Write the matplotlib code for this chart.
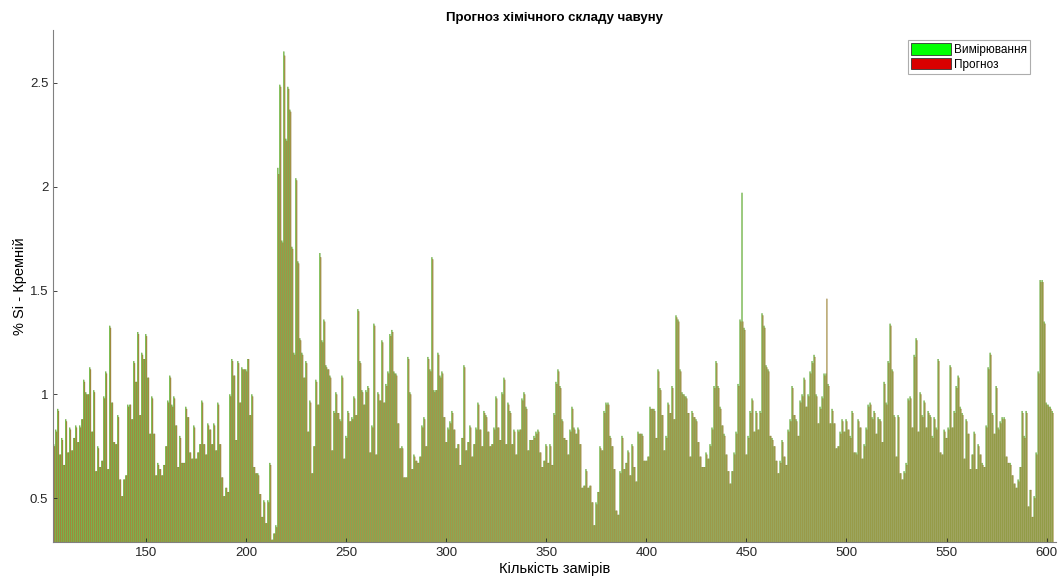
import matplotlib
matplotlib.use("Agg")
import matplotlib.pyplot as plt
from matplotlib.patches import Patch
from matplotlib.ticker import FuncFormatter

title = "Прогноз хімічного складу чавуну"
xlabel = "Кількість замірів"
ylabel = "% Si - Кремній"
legend_labels = ["Вимірювання", "Прогноз"]

x_start = 104
measured = [
    0.76, 0.83, 0.93, 0.71, 0.79, 0.66, 0.88, 0.72, 0.84, 0.73,
    0.79, 0.85, 0.77, 0.85, 0.88, 1.07, 1.01, 1.00, 1.13, 0.82,
    1.02, 0.63, 0.75, 0.65, 0.68, 0.99, 1.11, 0.64, 1.33, 0.96,
    0.77, 0.76, 0.90, 0.59, 0.51, 0.59, 0.61, 0.95, 0.95, 0.88,
    1.16, 1.06, 1.30, 0.90, 1.20, 1.17, 1.29, 1.08, 0.81, 0.99,
    0.81, 0.61, 0.67, 0.64, 0.61, 0.66, 0.75, 0.97, 1.09, 0.95,
    0.99, 0.85, 0.65, 0.80, 0.67, 0.67, 0.94, 0.89, 0.72, 0.69,
    0.85, 0.69, 0.72, 0.76, 0.97, 0.76, 0.71, 0.86, 0.83, 0.76,
    0.86, 0.73, 0.96, 0.76, 0.60, 0.51, 0.55, 0.53, 1.00, 1.17,
    1.09, 0.78, 1.16, 0.96, 1.13, 1.12, 1.12, 1.17, 0.90, 1.00,
    0.65, 0.62, 0.62, 0.52, 0.41, 0.49, 0.38, 0.49, 0.67, 0.30,
    0.33, 0.37,
    2.09, 2.49, 1.74, 2.65, 2.23, 2.48, 2.37, 1.71, 1.20, 2.04,
    1.64, 1.27, 1.20, 1.08, 1.16, 0.82, 0.97, 0.62, 0.75, 1.07,
    0.95, 1.68, 1.26, 1.36, 1.14, 1.12, 1.09, 0.73, 0.92, 1.01,
    0.91, 0.88, 1.09, 0.69, 0.80, 0.92, 0.87, 0.89, 0.99, 0.90,
    1.41, 1.16, 1.02, 0.95, 1.02, 1.04, 0.72, 0.85, 1.34, 0.71,
    1.01, 0.97, 1.26, 0.96, 1.05, 1.11, 1.29, 1.31, 1.11, 1.10,
    0.86, 0.74, 0.75, 0.60, 0.60, 1.18, 1.01, 0.64, 0.71, 0.68,
    0.67, 0.70, 0.85, 0.89, 0.75, 1.18, 1.12, 1.66, 1.02, 1.02,
    1.20, 1.09, 1.11, 0.89, 0.77, 0.84, 0.87, 0.92, 0.83, 0.74,
    0.76, 0.66, 0.79, 1.14, 0.73, 0.77, 0.85,
    0.70, 0.76, 0.84, 0.96, 0.83, 0.75, 0.92, 0.90, 0.82, 0.75,
    0.76, 0.84, 0.99, 0.84, 0.78, 1.01, 1.08, 0.76, 0.96, 0.92,
    0.76, 0.83, 0.71, 0.83, 0.83, 0.98, 1.01, 0.94, 0.73, 0.78,
    0.78, 0.80, 0.82, 0.83, 0.72, 0.65, 0.68, 0.76, 0.67, 0.76,
    0.66, 0.91, 1.06, 1.12, 1.04, 0.88, 0.79, 0.78, 0.71, 0.83,
    0.94, 0.84, 0.81, 0.84, 0.76, 0.55, 0.56, 0.64, 0.55, 0.56,
    0.48, 0.37, 0.48, 0.53, 0.75, 0.73, 0.92, 0.96, 0.96, 0.80,
    0.75, 0.64, 0.44, 0.42, 0.63, 0.80, 0.64, 0.67, 0.73, 0.61,
    0.76, 0.65, 0.58, 0.82, 0.81, 0.81, 0.68, 0.68, 0.70, 0.94,
    0.93, 0.93, 0.79, 1.12, 1.03, 0.90, 0.73, 0.80, 0.96, 0.91,
    1.04, 0.88, 1.38, 1.36, 1.12,
    1.01, 1.00, 0.99, 0.91, 0.70, 0.92, 0.89, 0.88, 0.77, 0.70,
    0.65, 0.65, 0.72, 0.69, 0.76, 0.84, 1.04, 1.16, 1.04, 0.94,
    0.85, 0.81, 0.71, 0.63, 0.57, 0.63, 0.72, 0.82, 1.05, 1.36,
    1.97, 1.32, 0.71, 0.80, 0.92, 0.98, 0.82, 0.92, 0.83, 0.92,
    1.39, 1.33, 1.14, 1.12, 0.80, 0.79, 0.75, 0.68, 0.62, 0.68,
    0.78, 0.70, 0.66, 0.83, 0.88, 1.04, 0.90, 0.88, 0.80, 0.97,
    1.00, 1.08, 0.94, 1.00, 1.11, 1.16, 1.19, 1.00, 0.86, 0.94,
    0.99, 1.10, 1.10, 1.05, 0.86, 0.93, 0.86, 0.74, 0.75, 0.82,
    0.88, 0.82, 0.88, 0.83, 0.80, 0.92, 0.72, 0.72, 0.88, 0.84,
    0.69, 0.76, 0.84, 0.95, 0.96, 0.89, 0.92, 0.81, 0.89,
    0.88, 0.77, 1.06, 0.96, 1.16, 1.34, 1.12, 0.90, 0.70, 0.90,
    0.62, 0.59, 0.63, 0.67, 0.98, 0.99, 0.84, 1.19, 1.27, 0.82,
    1.01, 0.90, 0.97, 0.84, 0.92, 0.90, 0.80, 0.89, 0.84, 1.17,
    0.72, 0.71, 0.83, 0.79, 0.84, 1.14, 0.84, 0.92, 1.04, 1.09,
    0.94, 0.91, 0.69, 0.88, 0.81, 0.64, 0.71, 0.82, 0.64, 0.76,
    0.71, 0.67, 0.65, 0.85, 1.13, 1.20, 0.91, 0.81, 1.04, 0.84,
    0.87, 0.89, 0.89, 0.70, 0.67, 0.67, 0.61, 0.57, 0.55, 0.59,
    0.65, 0.92, 0.80, 0.92, 0.46, 0.54, 0.41, 0.51, 0.72, 1.11,
    1.55, 1.55, 1.35, 0.96, 0.95, 0.94, 0.92,
]
predicted = [
    0.75, 0.82, 0.92, 0.71, 0.78, 0.66, 0.87, 0.72, 0.83, 0.73,
    0.79, 0.84, 0.77, 0.84, 0.88, 1.06, 1.00, 1.00, 1.12, 0.82,
    1.01, 0.63, 0.74, 0.65, 0.68, 0.98, 1.10, 0.64, 1.32, 0.96,
    0.77, 0.76, 0.89, 0.59, 0.51, 0.59, 0.61, 0.94, 0.95, 0.88,
    1.15, 1.06, 1.29, 0.90, 1.19, 1.17, 1.28, 1.08, 0.81, 0.98,
    0.81, 0.61, 0.66, 0.64, 0.61, 0.66, 0.75, 0.96, 1.08, 0.94,
    0.98, 0.85, 0.65, 0.79, 0.67, 0.67, 0.93, 0.89, 0.72, 0.69,
    0.84, 0.69, 0.72, 0.76, 0.96, 0.76, 0.71, 0.85, 0.83, 0.76,
    0.85, 0.73, 0.95, 0.76, 0.60, 0.51, 0.55, 0.53, 0.99, 1.16,
    1.09, 0.78, 1.15, 0.96, 1.12, 1.12, 1.11, 1.17, 0.90, 0.99,
    0.65, 0.62, 0.61, 0.52, 0.41, 0.48, 0.38, 0.48, 0.66, 0.30,
    0.33, 0.36,
    2.06, 2.48, 1.73, 2.63, 2.22, 2.47, 2.36, 1.70, 1.19, 2.03,
    1.63, 1.26, 1.19, 1.08, 1.15, 0.82, 0.96, 0.62, 0.75, 1.06,
    0.95, 1.66, 1.25, 1.35, 1.13, 1.12, 1.08, 0.73, 0.91, 1.00,
    0.91, 0.87, 1.08, 0.69, 0.79, 0.91, 0.87, 0.88, 0.98, 0.90,
    1.40, 1.15, 1.01, 0.95, 1.01, 1.03, 0.72, 0.84, 1.33, 0.71,
    1.00, 0.97, 1.25, 0.96, 1.04, 1.10, 1.28, 1.30, 1.10, 1.09,
    0.86, 0.74, 0.74, 0.60, 0.60, 1.17, 1.00, 0.64, 0.70, 0.68,
    0.67, 0.70, 0.84, 0.88, 0.75, 1.17, 1.11, 1.65, 1.01, 1.02,
    1.19, 1.08, 1.10, 0.89, 0.77, 0.83, 0.86, 0.91, 0.83, 0.74,
    0.76, 0.66, 0.79, 1.13, 0.73, 0.77, 0.84,
    0.70, 0.76, 0.83, 0.95, 0.83, 0.75, 0.91, 0.89, 0.82, 0.75,
    0.76, 0.83, 0.98, 0.84, 0.78, 1.00, 1.07, 0.76, 0.95, 0.91,
    0.76, 0.82, 0.71, 0.82, 0.83, 0.97, 1.00, 0.93, 0.73, 0.78,
    0.78, 0.79, 0.81, 0.82, 0.72, 0.65, 0.68, 0.75, 0.67, 0.75,
    0.66, 0.90, 1.05, 1.11, 1.03, 0.87, 0.79, 0.78, 0.71, 0.82,
    0.93, 0.83, 0.81, 0.83, 0.76, 0.55, 0.56, 0.63, 0.55, 0.56,
    0.48, 0.37, 0.47, 0.53, 0.74, 0.73, 0.91, 0.95, 0.95, 0.79,
    0.75, 0.64, 0.44, 0.42, 0.62, 0.79, 0.64, 0.67, 0.72, 0.61,
    0.75, 0.65, 0.58, 0.81, 0.81, 0.80, 0.68, 0.68, 0.70, 0.93,
    0.93, 0.92, 0.79, 1.11, 1.02, 0.90, 0.73, 0.79, 0.95, 0.91,
    1.03, 0.88, 1.37, 1.35, 1.11,
    1.00, 0.99, 0.98, 0.91, 0.70, 0.91, 0.89, 0.87, 0.77, 0.70,
    0.65, 0.65, 0.71, 0.69, 0.75, 0.83, 1.03, 1.15, 1.03, 0.93,
    0.85, 0.80, 0.71, 0.63, 0.57, 0.63, 0.71, 0.81, 1.04, 1.35,
    1.35, 1.31, 0.71, 0.79, 0.91, 0.97, 0.82, 0.91, 0.83, 0.91,
    1.38, 1.32, 1.13, 1.11, 0.80, 0.78, 0.75, 0.68, 0.62, 0.67,
    0.77, 0.70, 0.66, 0.82, 0.87, 1.03, 0.90, 0.87, 0.80, 0.96,
    0.99, 1.07, 0.94, 0.99, 1.10, 1.15, 1.18, 0.99, 0.86, 0.93,
    0.98, 1.09, 1.46, 1.04, 0.86, 0.92, 0.86, 0.74, 0.75, 0.81,
    0.87, 0.82, 0.87, 0.83, 0.79, 0.91, 0.72, 0.71, 0.87, 0.84,
    0.69, 0.75, 0.83, 0.94, 0.95, 0.88, 0.91, 0.81, 0.88,
    0.87, 0.77, 1.05, 0.95, 1.15, 1.33, 1.11, 0.89, 0.70, 0.89,
    0.62, 0.59, 0.62, 0.66, 0.97, 0.98, 0.84, 1.18, 1.26, 0.82,
    1.00, 0.89, 0.96, 0.84, 0.91, 0.89, 0.79, 0.88, 0.83, 1.16,
    0.72, 0.71, 0.82, 0.79, 0.83, 1.13, 0.84, 0.91, 1.03, 1.08,
    0.93, 0.90, 0.69, 0.87, 0.81, 0.64, 0.71, 0.81, 0.64, 0.75,
    0.71, 0.66, 0.65, 0.84, 1.12, 1.19, 0.90, 0.81, 1.03, 0.83,
    0.86, 0.88, 0.88, 0.70, 0.67, 0.66, 0.61, 0.57, 0.55, 0.58,
    0.65, 0.91, 0.79, 0.91, 0.46, 0.54, 0.41, 0.50, 0.71, 1.10,
    1.54, 1.54, 1.34, 0.95, 0.94, 0.93, 0.91,
]

x = list(range(x_start, x_start + len(measured)))

plt.rcParams['font.family'] = ['Liberation Sans', 'DejaVu Sans']
fig = plt.figure(figsize=(10.63, 5.84), dpi=100)
ax = fig.add_axes([0.050, 0.072, 0.943, 0.877])

w = 0.42
xg = [v - w / 2 for v in x]
xr = [v + w / 2 for v in x]
ax.bar(xg, measured, width=w, color=(0.36, 0.74, 0.12), edgecolor=(0.2, 0.45, 0.05),
       linewidth=0.15, snap=False)
ax.bar(xr, predicted, width=w, color=(0.70, 0.60, 0.24), edgecolor=(0.42, 0.32, 0.08),
       linewidth=0.15, snap=False)

ax.set_xlim(103.5, 604.5)
ax.set_ylim(0.29, 2.755)
ax.set_xticks([150, 200, 250, 300, 350, 400, 450, 500, 550, 600])
ax.set_yticks([0.5, 1.0, 1.5, 2.0, 2.5])
ax.yaxis.set_major_formatter(FuncFormatter(lambda v, p: f"{v:g}"))
ax.tick_params(direction='in', length=3, labelsize=9.5, colors='#262626', width=0.6)
for s in ['top', 'right']:
    ax.spines[s].set_visible(False)
for s in ['left', 'bottom']:
    ax.spines[s].set_color('#808080')
    ax.spines[s].set_linewidth(0.8)

ax.set_title(title, fontsize=9.5, fontweight='bold', pad=6)
ax.set_xlabel(xlabel, fontsize=10.5, labelpad=2)
ax.set_ylabel(ylabel, fontsize=10.5, labelpad=2)

handles = [Patch(facecolor=(0.0, 1.0, 0.0), edgecolor='#333333', linewidth=0.6),
           Patch(facecolor=(0.85, 0.0, 0.0), edgecolor='#333333', linewidth=0.6)]
leg = ax.legend(handles, legend_labels, loc='upper right', bbox_to_anchor=(0.977, 0.985),
                fontsize=8.5, frameon=True, fancybox=False, handlelength=3.4, handleheight=1.1,
                handletextpad=0.2, borderpad=0.3, labelspacing=0.15, borderaxespad=0.2)
leg.get_frame().set_edgecolor('#999999')
leg.get_frame().set_linewidth(0.8)

fig.savefig("out.png", dpi=100)
